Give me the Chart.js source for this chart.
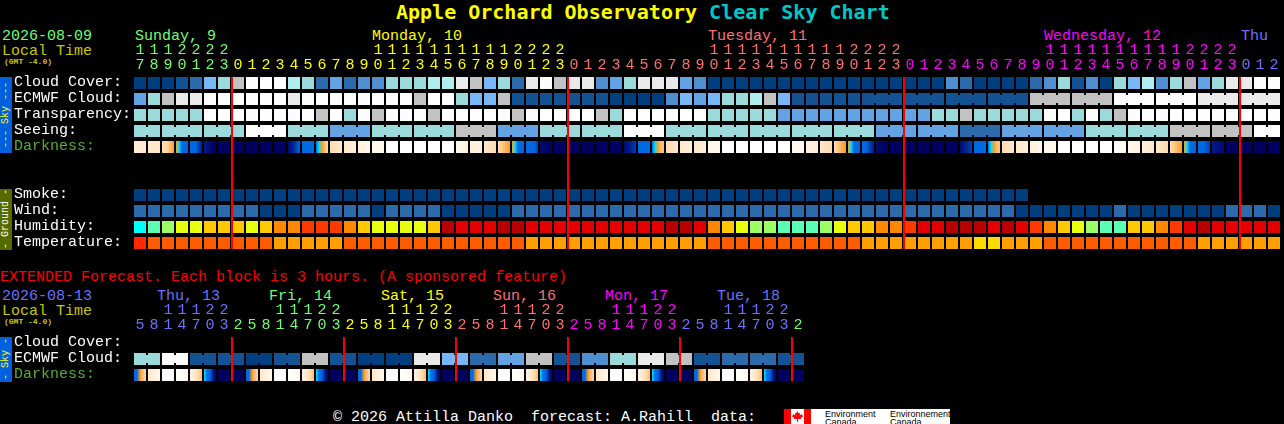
<!DOCTYPE html>
<html><head><meta charset="utf-8">
<script src="https://cdn.jsdelivr.net/npm/chart.js@4/dist/chart.umd.min.js"></script>
<style>
html,body{margin:0;padding:0;background:#000;width:1284px;height:424px;overflow:hidden}
canvas{position:absolute;left:0}
.t{position:absolute;font:15px/16px "Liberation Mono",monospace;white-space:pre;color:#fff}
.gmt{font:bold 8px/10px "Liberation Mono",monospace;color:#c8c800;position:absolute;white-space:pre}
.lt{color:#c8c800}
.side{position:absolute;left:0;width:12px;display:flex;align-items:center;justify-content:center;overflow:hidden}
.side span{writing-mode:vertical-rl;transform:rotate(180deg);font:10px/12px "Liberation Mono",monospace;white-space:pre}
#title{position:absolute;left:396px;top:0;font:bold 20px/24px "DejaVu Sans Mono",monospace;white-space:pre;color:#ffff00}
#title b{color:#00c8c8}
#logo{position:absolute;left:784px;top:409px;width:166px;height:15px;background:#fff;overflow:hidden;font:9px/8px "Liberation Sans",sans-serif;color:#000}
#logo i{position:absolute;top:0;height:15px;width:7px;background:#f00}
#logo u{position:absolute;left:8px;top:2px;width:11px;height:11px;background:#f00;clip-path:polygon(50% 0,62% 22%,75% 15%,70% 42%,88% 28%,100% 50%,80% 62%,85% 72%,55% 72%,55% 100%,45% 100%,45% 72%,15% 72%,20% 62%,0 50%,12% 28%,30% 42%,25% 15%,38% 22%)}
#logo span{position:absolute;white-space:pre}
</style></head><body>
<div id="title">Apple Orchard Observatory <b style="font-weight:bold">Clear Sky Chart</b></div>

<div class="t" style="left:2px;top:29px;color:#70ff70">2026-08-09</div>
<div class="t lt" style="left:2px;top:44px">Local Time</div>
<div class="gmt" style="left:4px;top:57px">(GMT -4.0)</div>
<div class="t" style="left:135px;top:29px;color:#70ff70">Sunday, 9</div>
<div class="t" style="left:372px;top:29px;color:#ffff00">Monday, 10</div>
<div class="t" style="left:708px;top:29px;color:#ff7070">Tuesday, 11</div>
<div class="t" style="left:1044px;top:29px;color:#ff00ff">Wednesday, 12</div>
<div class="t" style="left:1241px;top:29px;color:#7070ff">Thu</div>

<div class="side" style="top:77px;height:76px;background:#0060e0"><span style="color:#ffff00">--- Sky ---</span></div>
<div class="side" style="top:189px;height:61px;background:#556b00"><span style="color:#fff">- Ground -</span></div>
<div class="side" style="top:337px;height:45px;background:#0060e0"><span style="color:#ffff00">- Sky -</span></div>

<div class="t" style="left:0;top:270px;color:#ff0000">EXTENDED Forecast. Each block is 3 hours. (A sponsored feature)</div>
<div class="t" style="left:2px;top:289px;color:#7070ff">2026-08-13</div>
<div class="t lt" style="left:2px;top:304px">Local Time</div>
<div class="gmt" style="left:4px;top:317px">(GMT -4.0)</div>
<div class="t" style="left:157px;top:289px;color:#7070ff">Thu, 13</div>
<div class="t" style="left:269px;top:289px;color:#70ff70">Fri, 14</div>
<div class="t" style="left:381px;top:289px;color:#ffff00">Sat, 15</div>
<div class="t" style="left:493px;top:289px;color:#ff7070">Sun, 16</div>
<div class="t" style="left:605px;top:289px;color:#ff00ff">Mon, 17</div>
<div class="t" style="left:717px;top:289px;color:#7070ff">Tue, 18</div>

<div class="t" style="left:333px;top:410px">© 2026 Attilla Danko  forecast: A.Rahill  data:</div>
<div id="logo"><i style="left:0"></i><i style="left:20px"></i><u></u>
<span style="left:41px;top:1px">Environment</span><span style="left:41px;top:9px">Canada</span>
<span style="left:106px;top:1px">Environnement</span><span style="left:106px;top:9px">Canada</span></div>

<canvas id="main" width="1284" height="249" style="top:0"></canvas>
<canvas id="ext" width="805" height="81" style="top:300px"></canvas>

<script>
// ---------- Palettes (index = level used in the data arrays) ----------
const skyPalette = ['#003f7f','#135393','#2b6bab','#4f8fcf','#63a3e3','#77b7f7','#9adada','#aeeeee','#c2c2c2','#eaeaea','#fdfdfd'];
const humidityPalette = ['#00ffff','#5affb4','#9cff66','#e8ff10','#ffc800','#ff8800','#ff3800','#e20000','#b80000'];
const temperaturePalette = ['#ff2800','#ff5c00','#ffa000','#ffdc00'];
const darkPalette = ['#ffffff','#fff8ee','#fff0dc','#ffe8c8','#ffdcb0','#ffc070','#ff9c20','#00e0ff','#0068e0','#0040b0','#001a90','#000a70','#000060'];

// ---------- Main forecast ----------
const hours = [17,18,19,20,21,22,23,
 0,1,2,3,4,5,6,7,8,9,10,11,12,13,14,15,16,17,18,19,20,21,22,23,
 0,1,2,3,4,5,6,7,8,9,10,11,12,13,14,15,16,17,18,19,20,21,22,23,
 0,1,2,3,4,5,6,7,8,9,10,11,12,13,14,15,16,17,18,19,20,21,22,23,
 0,1,2];
const mainDayColors = ['#70ff70','#ffff00','#ff7070','#ff00ff','#7070ff'];
const mainMidnights = [7,31,55,79];

const cloudCover = [0,0,0,1,2,5,6,8,10,10,10,7,6,2,4,2,3,3,6,6,6,
 7,7,9,8,5,6,2,9,10,8,9,9,3,4,6,9,9,9,4,3,
 0,0,0,0,0,0,0,0,0,0,0,0,0,0,0,0,0,3,2,0,0,0,0,2,3,6,1,3,0,6,5,7,3,6,8,4,6,9,9,10,10];
const ecmwfCloud = [4,6,8,9,9,10,10,10,10,10,10,9,10,10,10,10,10,10,10,10,8,
 10,10,6,5,5,8,1,1,1,1,1,1,1,0,0,0,0,3,5,4,5,6,6,7,8,5,1,1,1,1,1,
 1,1,1,1,1,1,1,1,1,1,1,1,8,8,8,8,8,8,10,10,10,10,10,10,9,9,9,9,9,9];
const ecmwfSpans = [1,1,1,1,1,1,1,1,1,1,1,1,1,1,1,1,1,1,1,1,1,1,1,1,1,1,1,1,1,1,1,1,1,1,1,1,1,1,1,1,1,1,1,1,1,1,1,1,1,1,1,1,3,3,3,3,3,3,3,3,3,3];
const transparency = [6,6,6,6,6,10,10,10,10,10,10,10,10,8,10,6,10,8,10,10,10,
 8,10,10,10,10,10,8,10,10,10,10,10,8,6,10,10,10,10,10,10,6,6,6,6,6,4,4,4,4,4,4,
 4,4,4,4,4,6,6,8,6,6,6,6,6,10,10,6,10,6,8,10,10,10,10,10,10,10,10,10,10,10];
const seeing = [6,6,6,6,6,6,6,6,10,10,10,6,6,6,4,4,4,6,6,6,6,6,6,8,8,8,4,4,4,6,6,6,6,6,6,10,10,10,
 6,6,6,6,6,6,6,6,6,6,6,6,6,6,6,4,4,4,4,4,4,2,2,2,4,4,4,4,4,4,6,6,6,6,6,6,8,8,8,8,8,8,10,10];
const seeingSpans = [2,3,3,3,3,3,3,3,3,3,3,3,3,3,3,3,3,3,3,3,3,3,3,3,3,3,3,2];
const darkness = [[2,3],[3,3],[4,4,5,6],[6,7,8,8,8],[8,8,8,9,10],[10,11,12],[12],
 [12],[12],[12],[12],[11,10,9,8],[8],[8,7,6,5,4],[4,3],[3,2],[2,1],[1],[0],[0],[0],[0],[0],
 [1,2],[2,2],[3,4],[4,5,6],[6,7,8,8,8],[8,8,8,9],[11,12],[12],
 [12],[12],[12],[12],[11,10,9],[8],[8,7,6,5,5],[4,3],[3,2],[3,2],[1],[0],[0],[0],[0],[0],
 [1],[2],[3,4],[4,6],[6,7,8,8,8],[8,8,9,10],[11,12],[12],
 [12],[12],[12],[12],[11,9],[8],[8,7,6,5,5],[4,3],[3,2],[2,1],[1],[0],[0],[0],[0],[0,1],
 [1,2],[2,3],[3,4],[4,5,6],[6,7,8,8,8],[8,8,9],[10,11],[12],
 [12],[12],[12]];
const smoke = [0,0,0,0,0,0,0,0,0,0,0,0,0,0,0,0,0,0,0,0,0,0,0,0,0,0,0,0,0,0,0,0,
 0,0,0,0,0,0,0,0,0,0,0,0,0,0,0,0,0,0,0,0,0,0,0,0,0,0,0,0,0,0,0,0];
const wind = [2,2,2,2,2,2,2,2,2,0,0,0,2,2,2,2,2,0,2,2,2,
 2,0,0,0,0,0,2,2,2,2,2,2,2,2,2,2,2,2,2,2,2,2,2,2,2,2,2,2,2,2,2,
 2,2,2,2,2,2,2,2,2,2,2,0,0,0,0,0,0,0,2,0,0,0,0,0,0,0,2,2,2,0];
const humidity = [0,1,2,3,3,4,4,4,3,4,5,5,6,6,6,5,4,3,3,3,3,
 4,8,7,7,7,8,8,7,7,7,7,7,7,7,7,7,7,8,8,7,5,4,3,2,2,1,1,1,2,3,4,
 4,5,5,6,7,7,8,8,8,7,8,7,6,5,4,3,2,1,1,4,4,5,6,7,8,7,7,7,7,7];
const temperature = [0,1,1,1,1,1,1,1,1,1,2,2,2,2,2,1,1,1,1,1,1,
 1,1,1,1,1,1,1,2,2,2,2,2,2,2,2,2,2,2,2,2,1,1,1,1,1,1,1,1,1,1,1,
 2,2,2,2,2,2,2,2,3,3,2,2,2,1,1,1,1,1,1,1,1,1,1,1,2,2,2,2,2,2];

const mainRowLabels = ['Cloud Cover:','ECMWF Cloud:','Transparency:','Seeing:','Darkness:',null,null,'Smoke:','Wind:','Humidity:','Temperature:'];

// ---------- Extended forecast ----------
const extHours = [5,8,11,14,17,20,23,2,5,8,11,14,17,20,23,2,5,8,11,14,17,20,23,2,
 5,8,11,14,17,20,23,2,5,8,11,14,17,20,23,2,5,8,11,14,17,20,23,2];
const extDayColors = ['#7070ff','#70ff70','#ffff00','#ff7070','#ff00ff','#7070ff','#70ff70'];
const extMidnights = [7,15,23,31,39,47];
const extEcmwf = [6,6,10,10,1,1,1,1,0,0,1,1,8,8,1,1,0,0,0,0,9,9,5,5,2,2,4,4,8,8,1,1,3,3,6,6,9,9,8,8,1,1,2,2,2,2,1,1];
const extEcmwfSpans = [2,2,2,2,2,2,2,2,2,2,2,2,2,2,2,2,2,2,2,2,2,2,2,2];
const extDarkness = [[8,8,6,5,4],[3,1],[0],[0,1],[2,3,5],[7,8,8,10,12],[12],[12],
 [8,8,6,5,4],[3,1],[0],[0,1],[2,3,5],[7,8,8,10,12],[12],[12],
 [8,8,6,5,4],[3,1],[0],[0,1],[2,3,5],[7,8,8,10,12],[12],[12],
 [8,8,6,5,4],[3,1],[0],[0,1],[2,3,5],[7,8,8,10,12],[12],[12],
 [8,8,6,5,4],[3,1],[0],[0,1],[2,3,5],[7,8,8,10,12],[12],[12],
 [8,8,6,5,4],[3,1],[0],[0,1],[2,3,5],[7,8,8,10,12],[12],[12]];
const extRowLabels = ['Cloud Cover:','ECMWF Cloud:','Darkness:'];

// ---------- Chart building ----------
const BLOCK_HALF = 0.375, BRIDGE_HALF = 0.25, RED_NUDGE = 1/14;
const MONO = '"Liberation Mono", monospace';
const blockBase = {grouped:false, barThickness:12, borderWidth:0, inflateAmount:0, borderSkipped:false};

function blocks(levels, row, palette){
  return {...blockBase, xAxisID:'x', yAxisID:'y',
    data: levels.map(()=>[row-BLOCK_HALF,row+BLOCK_HALF]),
    backgroundColor: levels.map(l=>palette[l])};
}
function bridges(levels, spans, row, palette){
  const data=[], colors=[]; let s=0;
  spans.forEach(n=>{ for(let k=s;k<s+n-1;k++){ data.push({x:k+0.5,y:[row-BRIDGE_HALF,row+BRIDGE_HALF]}); colors.push(palette[levels[k]]); } s+=n; });
  return {...blockBase, barThickness:2, xAxisID:'xg', yAxisID:'y', data, backgroundColor:colors};
}
function darkBlocks(levels, row){
  return {...blockBase, xAxisID:'x', yAxisID:'y',
    data: levels.map(()=>[row-BLOCK_HALF,row+BLOCK_HALF]),
    backgroundColor(ctx){
      const i=ctx.dataIndex;
      const px=i===undefined?NaN:ctx.chart.scales.x.getPixelForValue(i);
      if(!isFinite(px)) return '#000060';
      const stops=levels[i];
      const g=ctx.chart.ctx.createLinearGradient(px-6,0,px+6,0);
      if(stops.length===1){g.addColorStop(0,darkPalette[stops[0]]);g.addColorStop(1,darkPalette[stops[0]]);}
      else stops.forEach((s,k)=>g.addColorStop(k/(stops.length-1),darkPalette[s]));
      return g;
    }};
}
function redLines(idx, rowMax){
  return {...blockBase, barThickness:2, xAxisID:'xg', yAxisID:'y',
    data: idx.map(i=>({x:i-0.5+RED_NUDGE,y:[-BLOCK_HALF,rowMax+BLOCK_HALF]})), backgroundColor:'#ff0000'};
}
function hourLabel(h){ return h>=10 ? [String(Math.floor(h/10)),String(h%10)] : ['',String(h)]; }

function makeChart(id, hrs, midnights, dayColors, rowLabels, datasets, rightPad){
  const rowMax=rowLabels.length-1;
  const colorAt=i=>{let d=0; midnights.forEach(m=>{if(i>=m)d++;}); return dayColors[d];};
  return new Chart(document.getElementById(id),{
    type:'bar',
    data:{labels:hrs.map(hourLabel),datasets},
    options:{
      responsive:false,animation:false,events:[],
      layout:{padding:{left:14,right:rightPad,top:0,bottom:0}},
      plugins:{legend:{display:false},tooltip:{enabled:false},title:{display:false}},
      scales:{
        x:{type:'category',position:'top',offset:true,
          grid:{display:false,drawTicks:false},border:{display:false},
          afterFit(s){s.height=id==='main'?77:37;s.paddingLeft=0;s.paddingRight=0;},
          ticks:{autoSkip:false,maxRotation:0,minRotation:0,padding:4,
            font:{family:MONO,size:15,lineHeight:'15px'},
            color:c=>colorAt(c.index)}},
        xg:{type:'linear',axis:'x',display:false,offset:false,min:-0.5,max:hrs.length-0.5,grid:{display:false,offset:false}},
        y:{type:'linear',position:'left',reverse:true,min:-BLOCK_HALF,max:rowMax+BLOCK_HALF,
          grid:{display:false,drawTicks:false},border:{display:false},
          afterFit(s){s.width=119;s.paddingTop=0;s.paddingBottom=0;},
          afterBuildTicks(s){s.ticks=rowLabels.map((l,v)=>l?{value:v}:null).filter(Boolean);},
          ticks:{crossAlign:'far',padding:0,autoSkip:false,
            font:{family:MONO,size:15,lineHeight:'2px'},
            callback:v=>[rowLabels[v],''],
            color:c=>rowLabels[c.tick.value]==='Darkness:'?'#55b030':'#ffffff'}}
      }
    }
  });
}

makeChart('main',hours,mainMidnights,mainDayColors,mainRowLabels,[
  redLines(mainMidnights,10),
  blocks(cloudCover,0,skyPalette),
  blocks(ecmwfCloud,1,skyPalette),
  bridges(ecmwfCloud,ecmwfSpans,1,skyPalette),
  blocks(transparency,2,skyPalette),
  blocks(seeing,3,skyPalette),
  bridges(seeing,seeingSpans,3,skyPalette),
  darkBlocks(darkness,4),
  blocks(smoke,7,skyPalette),
  blocks(wind,8,skyPalette),
  blocks(humidity,9,humidityPalette),
  blocks(temperature,10,temperaturePalette)
],3);

makeChart('ext',extHours,extMidnights,extDayColors,extRowLabels,[
  redLines(extMidnights,2),
  blocks(extEcmwf,1,skyPalette),
  bridges(extEcmwf,extEcmwfSpans,1,skyPalette),
  darkBlocks(extDarkness,2)
],0);
</script>
</body></html>
